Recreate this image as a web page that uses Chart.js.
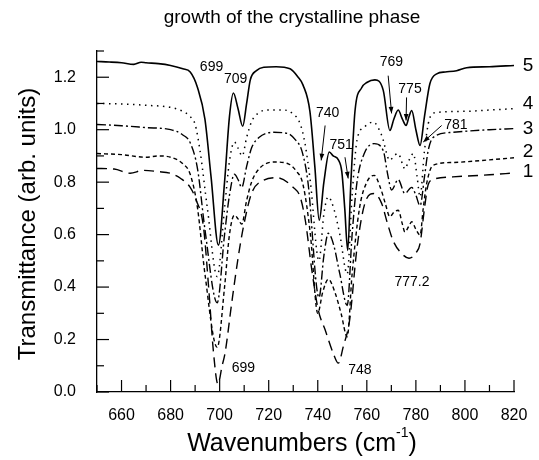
<!DOCTYPE html>
<html>
<head>
<meta charset="utf-8">
<script src="https://cdn.jsdelivr.net/npm/chart.js@4.4.1/dist/chart.umd.min.js"></script>
<style>
  html, body { margin: 0; padding: 0; background: #fff; }
  #wrap { width: 539px; height: 460px; }
</style>
</head>
<body>
<div id="wrap"><canvas id="chart" width="539" height="460"></canvas></div>
<script>
// tick labels
var xTicks = [660, 680, 700, 720, 740, 760, 780, 800, 820];
var yTicks = [0.0, 0.2, 0.4, 0.6, 0.8, 1.0, 1.2];

// curve 5 (solid)
var wn5 = [650, 655, 660, 665, 668, 670, 675, 680, 685, 688, 691, 694, 696.5, 699.5, 702, 704, 705.6, 707.5, 709.4, 711, 712.5, 715, 718, 723, 728.7, 732, 734, 736.8, 738.8, 740.6, 742.5, 744.7, 746.3, 748.4, 749.8, 751, 752.2, 753.5, 755.2, 757.9, 760, 763.3, 766.7, 769.4, 771, 772.8, 774.5, 776, 777.2, 778.3, 780, 781.7, 783.5, 785.7, 788.5, 792, 796.6, 800.7, 810, 820];
var t5 = [1.26, 1.258, 1.255, 1.249, 1.257, 1.255, 1.252, 1.245, 1.232, 1.22, 1.16, 1.04, 0.82, 0.56, 0.8, 1.05, 1.14, 1.08, 1.013, 1.1, 1.19, 1.225, 1.238, 1.24, 1.232, 1.2, 1.17, 1.07, 0.86, 0.655, 0.8, 0.915, 0.9, 0.885, 0.84, 0.7, 0.54, 0.8, 1.073, 1.16, 1.18, 1.19, 1.15, 0.997, 1.04, 1.075, 1.04, 1.016, 1.05, 1.073, 1.0, 0.94, 1.05, 1.175, 1.213, 1.22, 1.225, 1.236, 1.24, 1.245];

// curve 4 (dotted)
var wn4 = [650, 660, 670, 680, 685, 688, 690, 692, 695, 699, 702, 704, 706, 707.5, 709.2, 711, 713, 716, 720, 726, 730, 732.8, 734.8, 737, 740.5, 742.5, 744.3, 746.5, 749, 752, 754, 756, 759, 762.6, 766, 769.4, 771, 772.8, 774.5, 775.5, 777, 779, 780.5, 781.7, 783.5, 785.5, 788, 800, 810, 820];
var t4 = [1.10, 1.098, 1.093, 1.085, 1.07, 1.05, 1.02, 0.92, 0.7, 0.44, 0.7, 0.88, 0.953, 0.93, 0.9, 0.97, 1.03, 1.065, 1.075, 1.075, 1.06, 1.023, 0.947, 0.8, 0.5, 0.68, 0.744, 0.7, 0.6, 0.45, 0.75, 0.96, 1.01, 1.029, 0.98, 0.883, 0.9, 0.909, 0.87, 0.85, 0.88, 0.909, 0.82, 0.744, 0.92, 1.04, 1.065, 1.07, 1.075, 1.08];

// curve 3 (dash-dot)
var wn3 = [650, 660, 670, 680, 685, 688, 691, 694, 699, 702, 704, 706, 707.5, 709, 711, 713, 716, 722, 728, 731, 733.5, 736, 740.5, 742.5, 744.3, 746.5, 749, 752, 754, 756, 759, 763, 766.7, 768.5, 770.1, 772.8, 775.5, 778.3, 780, 781.7, 783.5, 785, 787, 795, 810, 820];
var t3 = [1.02, 1.015, 1.008, 1.0, 0.98, 0.95, 0.85, 0.62, 0.34, 0.6, 0.75, 0.83, 0.81, 0.78, 0.86, 0.93, 0.97, 0.99, 0.985, 0.96, 0.92, 0.8, 0.36, 0.52, 0.605, 0.56, 0.45, 0.33, 0.6, 0.8, 0.91, 0.947, 0.92, 0.83, 0.77, 0.81, 0.757, 0.78, 0.75, 0.71, 0.82, 0.92, 0.97, 0.99, 1.0, 1.004];

// curve 2 (short dash)
var wn2 = [650, 660, 670, 675, 680, 685, 688, 691, 694, 699, 702, 704, 706, 707.5, 709, 711, 713, 716, 722, 728, 731, 734, 737, 740, 742, 744.3, 747, 749.5, 752, 754, 757, 760, 763, 765.5, 767.5, 769.4, 771, 772.8, 774.5, 775.5, 777, 778.3, 780, 781.7, 783, 784.4, 787, 795, 810, 820];
var t2 = [0.909, 0.905, 0.895, 0.9, 0.895, 0.87, 0.83, 0.7, 0.45, 0.17, 0.4, 0.6, 0.674, 0.66, 0.64, 0.73, 0.8, 0.85, 0.877, 0.87, 0.845, 0.79, 0.6, 0.3, 0.38, 0.43, 0.38, 0.3, 0.21, 0.45, 0.7, 0.8, 0.826, 0.78, 0.72, 0.668, 0.685, 0.693, 0.64, 0.61, 0.63, 0.649, 0.62, 0.598, 0.7, 0.795, 0.864, 0.875, 0.885, 0.893];

// curve 1 (long dash)
var wn1 = [650, 657, 663.5, 668.8, 675, 679.8, 684, 688, 690.5, 693.4, 695.5, 697.5, 699.3, 701, 702.2, 704.9, 707.6, 709.7, 713, 717.8, 723.3, 730, 732.8, 735, 737.5, 740.2, 743, 746.3, 748.4, 750.4, 753, 756, 759.2, 763, 766, 768.5, 770.8, 774, 777.2, 780, 781.7, 783.5, 785, 787, 795, 810, 820];
var t1 = [0.852, 0.85, 0.834, 0.845, 0.84, 0.834, 0.815, 0.78, 0.73, 0.63, 0.4, 0.15, 0.03, 0.1, 0.148, 0.338, 0.516, 0.63, 0.757, 0.807, 0.817, 0.78, 0.744, 0.65, 0.47, 0.313, 0.237, 0.148, 0.11, 0.173, 0.275, 0.55, 0.719, 0.757, 0.72, 0.64, 0.575, 0.53, 0.51, 0.53, 0.566, 0.7, 0.79, 0.81, 0.82, 0.828, 0.835];

// peak labels [text, wavenumber, value]
var peakLabels = [
  ['699', 696.7, 1.24], ['709', 706.5, 1.193], ['740', 744, 1.064], ['751', 749.5, 0.94],
  ['769', 770, 1.258], ['775', 777.6, 1.155], ['781', 796.3, 1.016],
  ['699', 709.7, 0.09], ['748', 757.2, 0.085], ['777.2', 778.4, 0.42]
];
// arrows [x0, y0, x1, y1] in data units
var arrows = [
  [743, 1.016, 741.4, 0.883], [751.1, 0.895, 752.4, 0.814], [768.7, 1.206, 770.1, 1.062],
  [776.2, 1.123, 776, 1.035], [790.5, 1.016, 783, 0.953]
];
// curve numbers at the right end
var curveNames = ['5', '4', '3', '2', '1'];
var curveNameY = [1.245, 1.1, 1.005, 0.915, 0.839];

function pts(xs, ys) {
  return xs.map(function (x, i) { return { x: x, y: ys[i] }; });
}

function mk(xs, ys, dash, w) {
  return {
    data: pts(xs, ys),
    borderColor: '#000',
    borderWidth: w,
    borderDash: dash,
    pointRadius: 0,
    fill: false,
    cubicInterpolationMode: 'monotone'
  };
}

var FONT = '"Liberation Sans", Arial, sans-serif';

var extras = {
  id: 'extras',
  afterDraw: function (chart) {
    var c = chart.ctx, xs = chart.scales.x, ys = chart.scales.y;
    var a = chart.chartArea;
    c.save();
    c.strokeStyle = '#000';
    c.fillStyle = '#000';
    c.lineWidth = 1.2;
    // inward ticks
    for (var v = 650; v <= 820; v += 10) {
      var px = xs.getPixelForValue(v);
      var len = v % 20 === 0 ? 12 : 7;
      c.beginPath(); c.moveTo(px, a.bottom); c.lineTo(px, a.bottom - len); c.stroke();
    }
    for (var k = 0; k <= 13; k++) {
      var py = ys.getPixelForValue(k / 10);
      var l2 = k % 2 === 0 ? 12 : 7;
      c.beginPath(); c.moveTo(a.left, py); c.lineTo(a.left + l2, py); c.stroke();
    }
    // title
    c.textAlign = 'center';
    c.textBaseline = 'middle';
    c.font = '19px ' + FONT;
    c.fillText('growth of the crystalline phase', 292, 18);
    // peak labels
    c.font = '14px ' + FONT;
    peakLabels.forEach(function (p) {
      c.fillText(p[0], xs.getPixelForValue(p[1]), ys.getPixelForValue(p[2]));
    });
    // arrows
    c.lineWidth = 1;
    arrows.forEach(function (ar) {
      var x0 = xs.getPixelForValue(ar[0]), y0 = ys.getPixelForValue(ar[1]);
      var x1 = xs.getPixelForValue(ar[2]), y1 = ys.getPixelForValue(ar[3]);
      c.beginPath(); c.moveTo(x0, y0); c.lineTo(x1, y1); c.stroke();
      var ang = Math.atan2(y1 - y0, x1 - x0), h = 7;
      c.beginPath();
      c.moveTo(x1, y1);
      c.lineTo(x1 - h * Math.cos(ang - 0.35), y1 - h * Math.sin(ang - 0.35));
      c.lineTo(x1 - h * Math.cos(ang + 0.35), y1 - h * Math.sin(ang + 0.35));
      c.closePath(); c.fill();
    });
    // curve numbers
    c.font = '19px ' + FONT;
    curveNames.forEach(function (n, i) {
      c.fillText(n, a.right + 14, ys.getPixelForValue(curveNameY[i]));
    });
    // y axis title
    c.save();
    c.translate(28, 224);
    c.rotate(-Math.PI / 2);
    c.font = '24px ' + FONT;
    c.fillText('Transmittance (arb. units)', 0, 0);
    c.restore();
    // x axis title with superscript
    c.textAlign = 'left';
    var t1s = 'Wavenumbers (cm', sup = '-1', t2s = ')';
    c.font = '25px ' + FONT;
    var w1 = c.measureText(t1s).width, w3 = c.measureText(t2s).width;
    c.font = '14px ' + FONT;
    var w2 = c.measureText(sup).width;
    var x0 = 302 - (w1 + w2 + w3) / 2;
    c.font = '25px ' + FONT;
    c.fillText(t1s, x0, 444);
    c.font = '14px ' + FONT;
    c.fillText(sup, x0 + w1, 433);
    c.font = '25px ' + FONT;
    c.fillText(t2s, x0 + w1 + w2, 444);
    c.restore();
  }
};

new Chart(document.getElementById('chart'), {
  type: 'line',
  data: {
    datasets: [
      mk(wn5, t5, [], 1.6),
      mk(wn4, t4, [1.5, 4.5], 1.5),
      mk(wn3, t3, [9, 3, 2, 3], 1.4),
      mk(wn2, t2, [4, 3], 1.4),
      mk(wn1, t1, [10, 6], 1.4)
    ]
  },
  options: {
    responsive: false,
    animation: false,
    layout: { padding: { top: 51, right: 25, left: 0, bottom: 0 } },
    plugins: { legend: { display: false }, tooltip: { enabled: false } },
    scales: {
      x: {
        type: 'linear', min: 650, max: 820,
        afterBuildTicks: function (s) { s.ticks = xTicks.map(function (v) { return { value: v }; }); },
        afterFit: function (s) { s.height = 68; },
        grid: { display: false },
        border: { color: '#000', width: 1.3 },
        ticks: { color: '#000', font: { family: FONT, size: 16 }, padding: 6, maxRotation: 0 },
        title: { display: false }
      },
      y: {
        type: 'linear', min: 0, max: 1.3,
        afterBuildTicks: function (s) { s.ticks = yTicks.map(function (v) { return { value: v }; }); },
        afterFit: function (s) { s.width = 97; },
        grid: { display: false },
        border: { color: '#000', width: 1.3 },
        ticks: {
          color: '#000', font: { family: FONT, size: 16 }, padding: 13,
          callback: function (v) { return v.toFixed(1); }
        },
        title: { display: false }
      }
    }
  },
  plugins: [extras]
});
</script>
</body>
</html>
